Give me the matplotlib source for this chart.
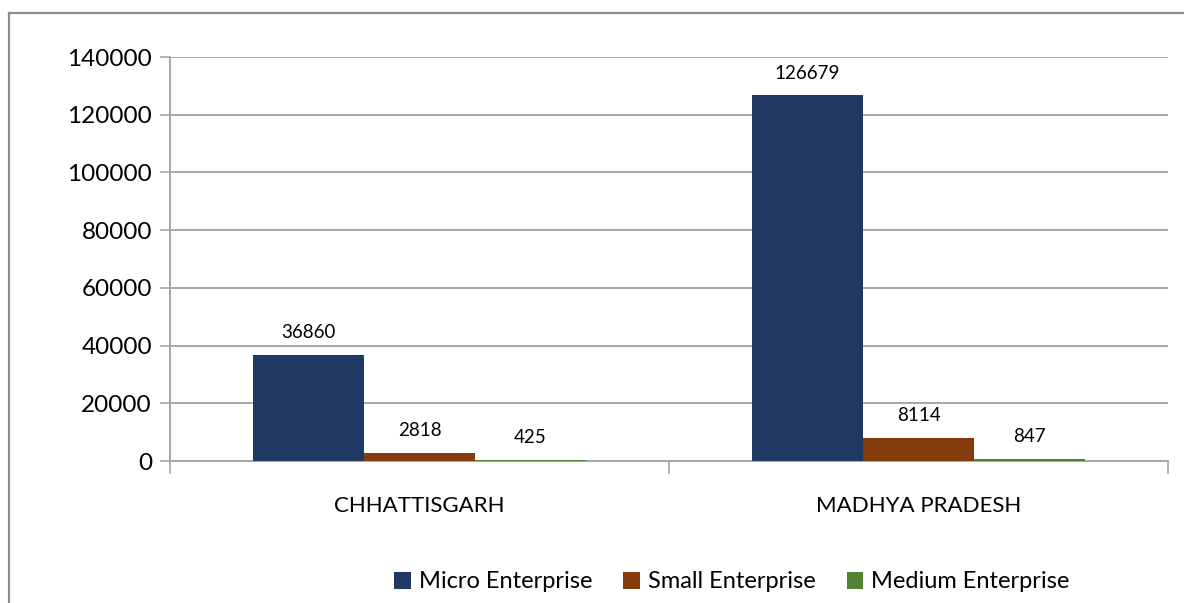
import matplotlib
matplotlib.use("Agg")
import matplotlib.pyplot as plt
import numpy as np
from matplotlib.lines import Line2D

plt.rcParams['font.family'] = ['Lato', 'DejaVu Sans']

states = ["CHHATTISGARH", "MADHYA PRADESH"]
series_names = ["Micro Enterprise", "Small Enterprise", "Medium Enterprise"]
micro = [36860, 126679]
small = [2818, 8114]
medium = [425, 847]
colors = ["#203864", "#843C0C", "#548235"]
y_ticks = [0, 20000, 40000, 60000, 80000, 100000, 120000, 140000]

fig = plt.figure(figsize=(11.84, 6.03), dpi=100)
ax = fig.add_axes([170 / 1184, 1 - 461 / 603, 998 / 1184, 404 / 603])

x = np.arange(len(states))
width = 1 / 4.5
grid_c = "#A6A6A6"

for i, (vals, name) in enumerate(zip([micro, small, medium], series_names)):
    pos = x + (i - 1) * width
    ax.bar(pos, vals, width, color=colors[i], label=name, zorder=3)
    for p, v in zip(pos, vals):
        ax.annotate(str(v), (p, v), xytext=(0, 10), textcoords="offset points",
                    ha="center", va="bottom", fontsize=13.5)

ax.set_xlim(-0.5, 1.5)
ax.set_ylim(0, 140000)
ax.set_yticks(y_ticks)
ax.set_yticklabels([str(t) for t in y_ticks], fontsize=17.5)
ax.yaxis.grid(True, color=grid_c, linewidth=1.4, zorder=0)
ax.tick_params(axis="y", length=7, width=1.2, color=grid_c, pad=6)

ax.set_xticks(x)
ax.set_xticklabels(states, fontsize=16)
ax.tick_params(axis="x", length=0, pad=25)
ax.set_xticks([-0.5, 0.5, 1.5], minor=True)
ax.tick_params(axis="x", which="minor", length=9, width=1.2, color=grid_c)

for s in ["top", "right"]:
    ax.spines[s].set_visible(False)
for s in ["left", "bottom"]:
    ax.spines[s].set_color(grid_c)
    ax.spines[s].set_linewidth(1.4)

# outer chart border
fig.add_artist(Line2D([9 / 1184, 1], [1 - 13 / 603, 1 - 13 / 603], color="#8C8C8C", linewidth=1.6))
fig.add_artist(Line2D([9 / 1184, 9 / 1184], [0, 1 - 13 / 603], color="#8C8C8C", linewidth=1.6))

fig.legend(loc="center", bbox_to_anchor=(732 / 1184, 1 - 582 / 603), ncol=3, frameon=False,
           fontsize=17, handlelength=0.7, handleheight=0.7, handletextpad=0.35, columnspacing=1.3)

fig.savefig("out.png", dpi=100)
